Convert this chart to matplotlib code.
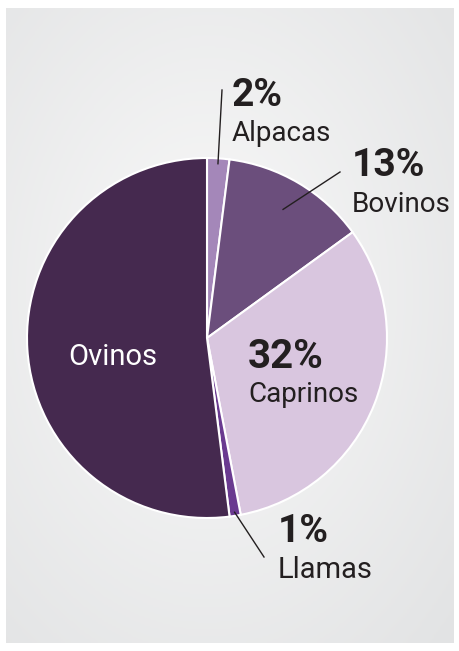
#Pie chart: share of livestock by species
import numpy as np
import matplotlib.pyplot as plt

#Data
species = ['Alpacas', 'Bovinos', 'Caprinos', 'Llamas', 'Ovinos']
shares = [2, 13, 32, 1, 52]
pct_labels = ['2%', '13%', '32%', '1%', '']
colors = ['#a487b9', '#6b4e7c', '#d9c6df', '#6a3a90', '#45294f']

plt.rcParams['font.family'] = ['Roboto', 'DejaVu Sans']
W, H = 460, 651
fig = plt.figure(figsize=(W/100, H/100), dpi=100, facecolor='white')

#Background panel with a soft radial gradient
bg = fig.add_axes([6/W, 8/H, 448/W, 635/H])
yy, xx = np.mgrid[0:1:300j, 0:1:220j]
dist = np.sqrt(((xx - 0.45)/0.75)**2 + ((yy - 0.45)/0.75)**2)
bg.imshow(-dist, cmap=plt.matplotlib.colors.LinearSegmentedColormap.from_list('g', ['#e2e3e4', '#f9f9f9']),
          aspect='auto', extent=[0, 1, 0, 1])
bg.axis('off')

#Main axes in pixel units (y measured from the bottom)
ax = fig.add_axes([0, 0, 1, 1])
ax.patch.set_alpha(0)

cx, cy, r = 207, H - 338, 180
wedges, _ = ax.pie(shares, colors=colors, startangle=90, counterclock=False,
                   center=(cx, cy), radius=r, frame=True,
                   wedgeprops=dict(edgecolor='white', linewidth=1.5))
ax.set_xlim(0, W)
ax.set_ylim(0, H)
ax.set_aspect('equal')
ax.axis('off')

txt = '#231f20'
def leader(i, rf, end):
    w = wedges[i]
    ang = np.deg2rad((w.theta1 + w.theta2) / 2)
    start = (cx + rf*r*np.cos(ang), cy + rf*r*np.sin(ang))
    ax.plot([start[0], end[0]], [start[1], H - end[1]], color=txt, lw=1)

big, small = 28, 20
#Alpacas
leader(0, 0.97, (222, 90))
ax.text(232, H - 106, pct_labels[0], fontsize=big, fontweight='bold', color=txt)
ax.text(232, H - 141, species[0], fontsize=small, color=txt)
#Bovinos
leader(1, 0.83, (340, 172))
ax.text(352, H - 176, pct_labels[1], fontsize=big, fontweight='bold', color=txt)
ax.text(352, H - 212, species[1], fontsize=small, color=txt)
#Caprinos
ax.text(248, H - 368, pct_labels[2], fontsize=big + 1, fontweight='bold', color=txt)
ax.text(248, H - 402, species[2], fontsize=small, color=txt)
#Llamas
leader(3, 0.98, (264, 557))
ax.text(278, H - 542, pct_labels[3], fontsize=big, fontweight='bold', color=txt)
ax.text(278, H - 578, species[3], fontsize=small + 1, color=txt)
#Ovinos
ax.text(68, H - 365, species[4], fontsize=small + 1, color='white')

fig.savefig('out.png', dpi=100, facecolor='white')
